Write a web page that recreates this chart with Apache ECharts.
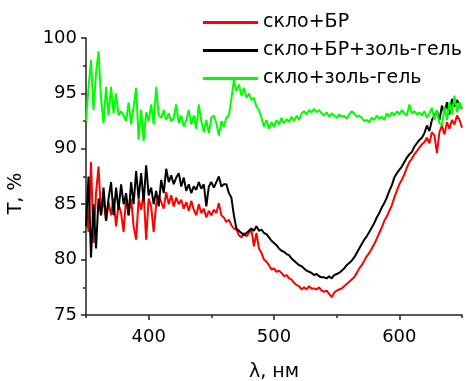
<!DOCTYPE html>
<html>
<head>
<meta charset="utf-8">
<script src="https://cdn.jsdelivr.net/npm/echarts@6/dist/echarts.min.js"></script>
<style>html,body{margin:0;padding:0;background:#fff}#c{width:466px;height:381px}</style>
</head>
<body>
<div id="c"></div>
<script>
// wavelength grid, nm (step 2 from 350 to 650)
const wavelengths = [];
for (let w = 350; w <= 650; w += 2) wavelengths.push(w);

const seriesNames = ['скло+БР', 'скло+БР+золь-гель', 'скло+золь-гель'];
const xMajorTicks = [400, 500, 600];
const xMinorTicks = [350, 450, 550, 650];

const glassBR = [
85.0,82.5,88.8,81.5,86.0,88.4,84.0,85.5,83.5,85.2,84.0,85.5,83.0,85.0,84.2,82.5,85.6,84.0,85.5,83.0,
81.8,85.5,84.5,86.0,81.8,85.5,84.8,82.5,85.0,85.8,85.2,84.6,86.1,85.0,85.8,84.8,85.6,85.0,85.4,84.6,
85.2,84.4,85.3,84.5,84.0,85.0,84.2,84.6,83.8,84.4,84.0,84.5,84.2,85.1,84.0,83.8,83.4,83.6,83.1,82.8,
82.7,82.2,82.0,82.4,82.1,82.4,82.7,81.2,82.4,81.0,80.6,80.0,79.8,79.5,79.1,79.2,78.9,79.0,78.8,78.5,
78.6,78.3,78.2,77.9,77.7,77.6,77.3,77.5,77.3,77.6,77.4,77.4,77.3,77.5,77.2,77.1,77.2,76.9,76.6,77.0,
77.2,77.3,77.4,77.6,77.8,78.0,78.2,78.4,78.8,79.2,79.5,79.9,80.3,80.6,81.0,81.4,81.9,82.4,82.9,83.5,
83.9,84.4,84.9,85.6,86.2,86.8,87.2,87.7,88.3,88.8,89.1,89.5,89.8,90.1,90.4,90.6,91.0,90.5,91.5,91.2,
89.6,91.5,92.1,91.3,92.4,91.8,92.6,92.2,93.0,92.6,91.9];

const glassBRSolGel = [
83.0,87.5,80.2,85.0,81.0,85.5,84.0,86.5,83.5,85.5,87.0,84.0,86.5,84.5,86.8,85.0,86.0,84.0,87.0,85.0,
88.0,85.5,87.8,85.2,88.5,85.8,86.5,85.0,86.2,84.8,87.2,86.0,88.2,87.0,87.6,86.8,87.4,87.8,86.6,87.4,
86.2,86.8,86.0,86.6,86.3,87.0,86.4,86.8,84.8,86.6,87.0,86.5,87.0,87.5,86.6,86.8,86.8,86.0,85.6,84.0,
82.8,82.6,82.4,82.2,82.4,82.6,82.8,82.6,83.0,82.6,82.7,82.4,82.3,82.0,81.7,81.5,81.3,81.0,80.8,80.7,
80.5,80.4,80.1,79.9,79.7,79.5,79.4,79.2,79.0,78.9,78.8,78.6,78.7,78.5,78.4,78.4,78.3,78.5,78.3,78.6,
78.7,78.8,79.0,79.2,79.5,79.7,79.9,80.2,80.6,81.0,81.4,81.8,82.1,82.5,82.9,83.3,83.8,84.2,84.7,85.1,
85.6,86.2,86.7,87.4,87.8,88.1,88.4,88.8,89.2,89.5,89.7,90.2,90.5,90.8,91.0,91.4,92.1,91.6,92.6,93.0,
93.4,92.6,93.9,93.2,94.2,93.1,94.5,93.8,94.4,94.0,93.6];

const glassSolGel = [
92.5,95.5,98.0,93.5,96.8,98.8,94.5,92.3,95.6,93.0,95.6,93.2,95.0,93.0,93.4,93.0,92.5,94.2,92.2,93.8,
95.5,90.8,93.5,90.7,93.3,92.5,94.0,92.2,95.6,93.0,92.8,93.5,92.6,93.2,92.5,92.8,94.0,92.3,93.0,92.0,
92.6,93.5,92.2,93.0,91.8,94.0,92.5,91.5,92.6,91.4,92.8,93.0,92.3,91.2,92.5,92.0,92.8,93.0,94.5,96.2,
95.2,95.8,94.8,95.5,94.6,95.0,94.4,94.6,93.8,93.5,92.8,92.0,92.6,91.8,92.4,92.0,92.6,92.2,92.8,92.3,
92.7,92.4,92.9,92.5,93.0,92.6,93.2,93.4,93.1,93.5,93.3,93.6,93.3,93.5,93.2,93.0,93.3,92.9,93.2,93.0,
92.8,93.1,92.9,93.0,92.7,93.1,93.4,93.2,92.9,93.0,92.8,92.5,92.6,92.4,92.8,92.6,93.0,92.7,92.9,92.6,
93.2,92.9,93.3,93.0,93.4,93.1,93.5,93.2,93.0,94.0,93.2,93.4,93.1,93.3,93.0,93.4,92.8,93.2,93.7,92.6,
93.5,92.3,92.1,93.8,92.6,94.2,93.1,94.8,93.3,94.2,93.6];

const colors = ['#ff0000', '#000000', '#00ff00'];
const allSeries = [glassBR, glassBRSolGel, glassSolGel];

const FONT = 'DejaVu Sans, sans-serif';
const AX = '#222';
const chart = echarts.init(document.getElementById('c'), null, {renderer: 'canvas'});
chart.setOption({
  animation: false,
  backgroundColor: '#ffffff',
  grid: {left: 86, right: 4, top: 38, bottom: 66, containLabel: false, outerBoundsMode: 'none'},
  legend: {
    orient: 'vertical',
    left: 203,
    top: 12,
    padding: 0,
    itemWidth: 55,
    itemHeight: 3,
    itemGap: 7,
    icon: 'rect',
    textStyle: {fontFamily: FONT, fontSize: 19, color: '#000', lineHeight: 21},
    data: seriesNames
  },
  xAxis: [{
    type: 'value',
    min: 350, max: 650, interval: 50,
    name: 'λ, нм',
    nameLocation: 'middle',
    nameGap: 48,
    nameTextStyle: {fontFamily: FONT, fontSize: 19, color: '#000'},
    axisLine: {show: true, lineStyle: {color: AX, width: 1.5}},
    axisTick: {show: true, inside: false, length: 5, customValues: xMajorTicks, lineStyle: {color: AX, width: 1.5}},
    minorTick: {show: false},
    axisLabel: {fontFamily: FONT, fontSize: 18, color: '#000', margin: 13, customValues: xMajorTicks},
    splitLine: {show: false}
  }, {
    type: 'value',
    position: 'bottom',
    min: 350, max: 650, interval: 50,
    axisLine: {show: false},
    axisTick: {show: true, inside: false, length: 3, customValues: xMinorTicks, lineStyle: {color: AX, width: 1.5}},
    axisLabel: {show: false},
    splitLine: {show: false}
  }],
  yAxis: {
    type: 'value',
    min: 75, max: 100, interval: 5,
    name: 'T, %',
    nameLocation: 'middle',
    nameGap: 60,
    nameRotate: 90,
    nameTextStyle: {fontFamily: FONT, fontSize: 19, color: '#000', padding: [0, 34, 0, 0]},
    axisLine: {show: true, lineStyle: {color: AX, width: 1.5}},
    axisTick: {show: true, inside: false, length: 5, lineStyle: {color: AX, width: 1.5}},
    minorTick: {show: true, splitNumber: 2, length: 3, lineStyle: {color: AX, width: 1.5}},
    axisLabel: {fontFamily: FONT, fontSize: 18, color: '#000', margin: 9},
    splitLine: {show: false}
  },
  series: allSeries.map((vals, i) => ({
    name: seriesNames[i],
    type: 'line',
    xAxisIndex: 0,
    showSymbol: false,
    symbol: 'none',
    color: colors[i],
    lineStyle: {color: colors[i], width: 2},
    data: wavelengths.map((w, j) => [w, vals[j]])
  }))
});
</script>
</body>
</html>
